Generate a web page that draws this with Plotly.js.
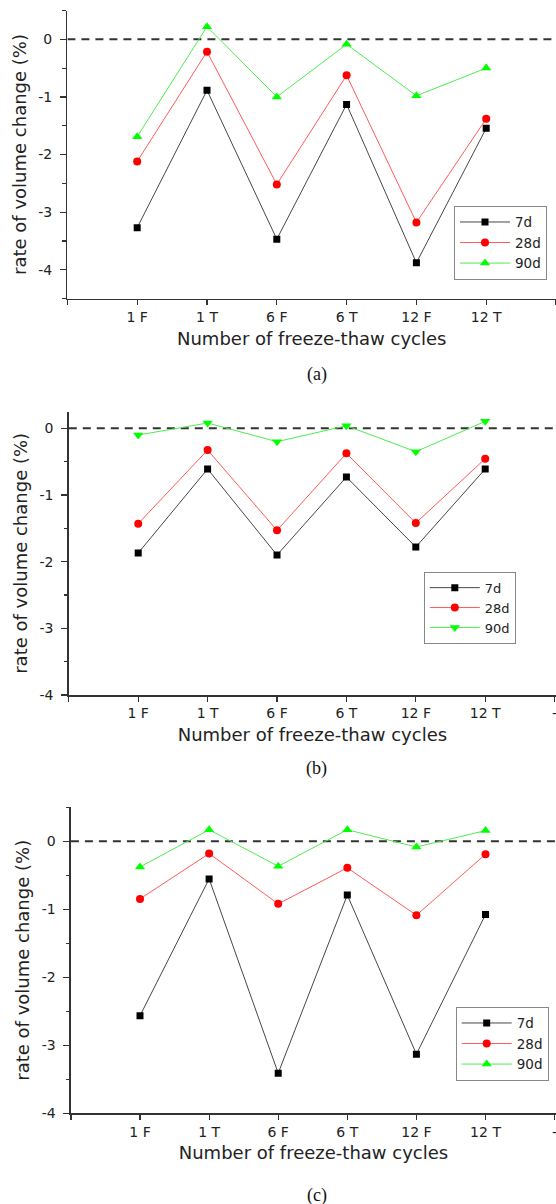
<!DOCTYPE html>
<html>
<head>
<meta charset="utf-8">
<script src="https://cdn.plot.ly/plotly-3.0.1.min.js"></script>
<style>html,body{margin:0;padding:0;background:#fff;}#chart{width:556px;height:1204px;}</style>
</head>
<body>
<div id="chart"></div>
<script>
// ---- data ----
const categories = ['1 F', '1 T', '6 F', '6 T', '12 F', '12 T'];
const seriesNames = ['7d', '28d', '90d'];

// panel (a)
const a_7d  = [-3.27, -0.885, -3.47, -1.13, -3.88, -1.545];
const a_28d = [-2.12, -0.215, -2.52, -0.625, -3.18, -1.38];
const a_90d = [-1.69, 0.22, -1.00, -0.087, -0.98, -0.50];

// panel (b)
const b_7d  = [-1.87, -0.61, -1.90, -0.73, -1.78, -0.61];
const b_28d = [-1.43, -0.325, -1.53, -0.375, -1.42, -0.455];
const b_90d = [-0.10, 0.08, -0.20, 0.04, -0.35, 0.105];

// panel (c)
const c_7d  = [-2.565, -0.553, -3.41, -0.79, -3.13, -1.077];
const c_28d = [-0.847, -0.18, -0.92, -0.39, -1.087, -0.19];
const c_90d = [-0.377, 0.17, -0.367, 0.17, -0.084, 0.157];

const yTickVals = [-4, -3, -2, -1, 0];
const yTickText = ['-4', '-3', '-2', '-1', '0'];
const xEndLabels = ['', '-', '-'];
const panelLabels = ['(a)', '(b)', '(c)'];
const xTitle = 'Number of freeze-thaw cycles';
const yTitle = 'rate of volume change (%)';

// ---- styling ----
const FONT = '"DejaVu Sans", "Liberation Sans", Arial, sans-serif';
const SERIF = '"Liberation Serif", "Times New Roman", serif';
const lineColors = ['rgb(70,70,70)', 'rgb(255,90,90)', 'rgb(80,235,80)'];
const markerColors = ['#000000', '#ff0000', '#00ff00'];
const axisColor = '#333';

const xIdx = categories.map((_, i) => i + 1);
const xTickVals = [0].concat(xIdx, [categories.length + 1]);

const panels = [
  {data: [a_7d, a_28d, a_90d], syms: ['square', 'circle', 'triangle-up'],
   xdom: [67.4 / 556, 1], xmax: 7.0, ydom: [1 - 298.5 / 1204, 1 - 10.5 / 1204], yr: [-4.5, 0.5],
   leg: {x: 454 / 556, y: 1 - 205.7 / 1204, size: 13.5}, cap: 1 - 374 / 1204},
  {data: [b_7d, b_28d, b_90d], syms: ['square', 'circle', 'triangle-down'],
   xdom: [68.8 / 556, 1], xmax: 7.02, ydom: [1 - 695 / 1204, 1 - 411.7 / 1204], yr: [-4, 0.25],
   leg: {x: 423.8 / 556, y: 1 - 571.7 / 1204, size: 13}, cap: 1 - 768 / 1204},
  {data: [c_7d, c_28d, c_90d], syms: ['square', 'circle', 'triangle-up'],
   xdom: [70.9 / 556, 1], xmax: 7.02, ydom: [1 - 1113.3 / 1204, 1 - 807.3 / 1204], yr: [-4, 0.5],
   leg: {x: 455.7 / 556, y: 1 - 1006.7 / 1204, size: 13.5}, cap: 1 - 1195 / 1204}
];

const traces = [];
const layout = {
  width: 556, height: 1204,
  margin: {l: 0, r: 0, t: 0, b: 0},
  paper_bgcolor: '#fff', plot_bgcolor: 'rgba(0,0,0,0)',
  font: {family: FONT, color: '#222'},
  showlegend: true,
  shapes: [], annotations: []
};

panels.forEach((p, k) => {
  const n = k === 0 ? '' : String(k + 1);
  const legName = 'legend' + n;
  p.data.forEach((vals, s) => {
    traces.push({
      type: 'scatter', mode: 'lines+markers',
      x: xIdx, y: vals, name: seriesNames[s],
      xaxis: 'x' + n, yaxis: 'y' + n, legend: legName,
      line: {color: lineColors[s], width: 1},
      marker: {symbol: p.syms[s], color: markerColors[s],
               size: s === 0 ? 7 : (s === 1 ? 8 : 9), line: {width: 0}},
      hoverinfo: 'x+y'
    });
  });
  layout['xaxis' + n] = {
    domain: p.xdom, anchor: 'y' + n, range: [0, p.xmax],
    showline: true, linecolor: axisColor, linewidth: 1.5,
    showgrid: false, zeroline: false,
    ticks: 'outside', ticklen: 5, tickwidth: 1.2, tickcolor: axisColor,
    tickmode: 'array', tickvals: xTickVals,
    ticktext: [''].concat(categories, [xEndLabels[k]]),
    ticklabeloverflow: 'allow',
    tickfont: {family: FONT, size: 14, color: '#222'},
    title: {text: xTitle, font: {family: FONT, size: 18, color: '#222'}, standoff: 8}
  };
  layout['yaxis' + n] = {
    domain: p.ydom, anchor: 'x' + n, range: p.yr,
    showline: true, linecolor: axisColor, linewidth: 1.5,
    showgrid: false, zeroline: false,
    ticks: 'outside', ticklen: 6, tickwidth: 1.2, tickcolor: axisColor,
    tickmode: 'array', tickvals: yTickVals, ticktext: yTickText,
    ticklabelstandoff: 5,
    minor: {dtick: 0.5, tick0: 0, ticks: 'outside', ticklen: 3.5, tickwidth: 1.2, tickcolor: axisColor, showgrid: false},
    tickfont: {family: FONT, size: 14, color: '#222'},
    title: {text: yTitle, font: {family: FONT, size: 18, color: '#222'}, standoff: 7}
  };
  layout[legName] = {
    x: p.leg.x, y: p.leg.y, xanchor: 'left', yanchor: 'top',
    bgcolor: '#fff', bordercolor: '#888', borderwidth: 1,
    font: {family: FONT, size: p.leg.size, color: '#222'},
    itemwidth: 50, tracegroupgap: 0
  };
  layout.shapes.push({
    type: 'line', xref: 'x' + n, yref: 'y' + n,
    x0: 0, x1: p.xmax, y0: 0, y1: 0,
    line: {color: '#333', width: 2, dash: '8px,6px'}, layer: 'below'
  });
  layout.annotations.push({
    xref: 'paper', yref: 'paper', x: 316.7 / 556, y: p.cap,
    xanchor: 'center', yanchor: 'middle', showarrow: false,
    text: panelLabels[k], font: {family: SERIF, size: 18, color: '#111'}
  });
});

Plotly.newPlot('chart', traces, layout, {staticPlot: true, displayModeBar: false});
</script>
</body>
</html>
